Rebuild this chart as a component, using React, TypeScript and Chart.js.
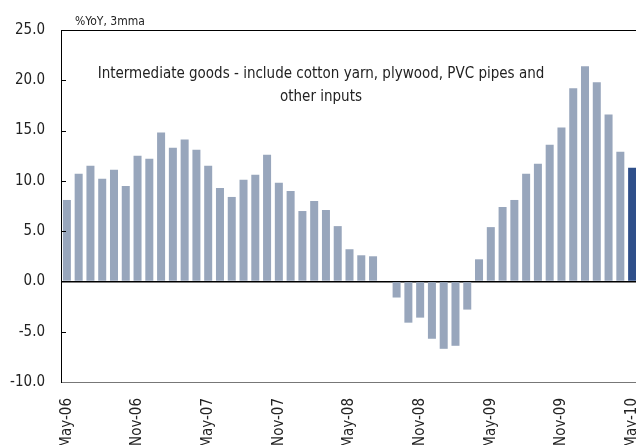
import { useEffect, useRef } from 'react';
import { Chart, registerables } from 'chart.js';
import type { Plugin } from 'chart.js';

Chart.register(...registerables);

// monthly, May-06 .. May-10
const months = [
  'May-06', 'Jun-06', 'Jul-06', 'Aug-06', 'Sep-06', 'Oct-06', 'Nov-06', 'Dec-06', 'Jan-07', 'Feb-07', 'Mar-07', 'Apr-07',
  'May-07', 'Jun-07', 'Jul-07', 'Aug-07', 'Sep-07', 'Oct-07', 'Nov-07', 'Dec-07', 'Jan-08', 'Feb-08', 'Mar-08', 'Apr-08',
  'May-08', 'Jun-08', 'Jul-08', 'Aug-08', 'Sep-08', 'Oct-08', 'Nov-08', 'Dec-08', 'Jan-09', 'Feb-09', 'Mar-09', 'Apr-09',
  'May-09', 'Jun-09', 'Jul-09', 'Aug-09', 'Sep-09', 'Oct-09', 'Nov-09', 'Dec-09', 'Jan-10', 'Feb-10', 'Mar-10', 'Apr-10',
  'May-10',
];

// %YoY, 3mma
const yoy = [
  8.1, 10.7, 11.5, 10.2, 11.1, 9.5, 12.5, 12.2, 14.8, 13.3, 14.1, 13.1,
  11.5, 9.3, 8.4, 10.1, 10.6, 12.6, 9.8, 9.0, 7.0, 8.0, 7.1, 5.5,
  3.2, 2.6, 2.5, 0.0, -1.6, -4.1, -3.6, -5.7, -6.7, -6.4, -2.8, 2.2,
  5.4, 7.4, 8.1, 10.7, 11.7, 13.6, 15.3, 19.2, 21.4, 19.8, 16.6, 12.9,
  11.3,
];

const unitLabel = '%YoY, 3mma';
const noteLines = [
  'Intermediate goods - include cotton yarn, plywood, PVC pipes and',
  'other inputs',
];

const FONT = '"Liberation Sans Narrow", "DejaVu Sans Condensed", sans-serif';
const BAR = '#98a6bc';
const BAR_LAST = '#2f4f8a';

// short ticks drawn inside the y axis, plus the unit label and the note
const overlayPlugin: Plugin<'bar'> = {
  id: 'overlay',
  afterDraw(chart) {
    const { ctx, chartArea } = chart;
    const y = chart.scales.y;
    ctx.save();
    ctx.strokeStyle = '#000';
    ctx.lineWidth = 1;
    y.ticks.forEach(t => {
      if (t.value === 25 || t.value === -10) return;
      const py = Math.round(y.getPixelForValue(t.value)) + 0.5;
      ctx.beginPath();
      ctx.moveTo(chartArea.left, py);
      ctx.lineTo(chartArea.left + 5, py);
      ctx.stroke();
    });

    ctx.fillStyle = '#222';
    ctx.textAlign = 'left';
    ctx.textBaseline = 'alphabetic';
    ctx.font = `12px ${FONT}`;
    ctx.fillText(unitLabel, 75, 25);

    ctx.textAlign = 'center';
    ctx.font = `15px ${FONT}`;
    noteLines.forEach((line, i) => ctx.fillText(line, 321, 78 + i * 23));
    ctx.restore();
  },
};

export default function App(): JSX.Element {
  const canvasRef = useRef<HTMLCanvasElement>(null);

  useEffect(() => {
    if (!canvasRef.current) return;
    const last = yoy.length - 1;

    const chart = new Chart(canvasRef.current, {
      type: 'bar',
      plugins: [overlayPlugin],
      data: {
        labels: months,
        datasets: [
          {
            data: yoy,
            backgroundColor: yoy.map((_, i) => (i === last ? BAR_LAST : BAR)),
            barPercentage: 0.68,
            categoryPercentage: 1,
          },
        ],
      },
      options: {
        animation: false,
        responsive: true,
        maintainAspectRatio: false,
        layout: { padding: { top: 30, right: 2, left: 0, bottom: 0 } },
        plugins: {
          legend: { display: false },
          tooltip: { enabled: false },
        },
        scales: {
          x: {
            grid: { display: false, drawTicks: false },
            border: { color: '#777', width: 1 },
            ticks: {
              autoSkip: false,
              minRotation: 90,
              maxRotation: 90,
              padding: 16,
              color: '#222',
              font: { family: FONT, size: 15 },
              callback: (_v, i) => (i % 6 === 0 ? months[i] : ''),
            },
            afterFit: scale => {
              scale.height = 63;
              scale.paddingLeft = 0;
              scale.paddingRight = 0;
            },
          },
          y: {
            min: -10,
            max: 25,
            border: { color: '#000', width: 1 },
            grid: {
              drawTicks: false,
              color: c => (c.tick && (c.tick.value === 0 || c.tick.value === 25) ? '#000' : 'rgba(0,0,0,0)'),
              lineWidth: c => (c.tick && c.tick.value === 0 ? 1.5 : 1),
            },
            ticks: {
              stepSize: 5,
              padding: 16,
              color: '#222',
              font: { family: FONT, size: 15 },
              callback: v => Number(v).toFixed(1),
            },
            afterFit: scale => {
              scale.width = 61;
              scale.paddingTop = 0;
              scale.paddingBottom = 0;
            },
          },
        },
      },
    });

    return () => { chart.destroy(); };
  }, []);

  return (
    <div style={{ position: 'absolute', left: 0, top: 0, width: 636, height: 445, overflow: 'hidden', background: '#fff' }}>
      <div style={{ position: 'relative', width: 640, height: 445 }}>
        <canvas ref={canvasRef} role="img" aria-label="Bar chart of intermediate goods, %YoY 3mma, May-06 to May-10" />
      </div>
    </div>
  );
}
